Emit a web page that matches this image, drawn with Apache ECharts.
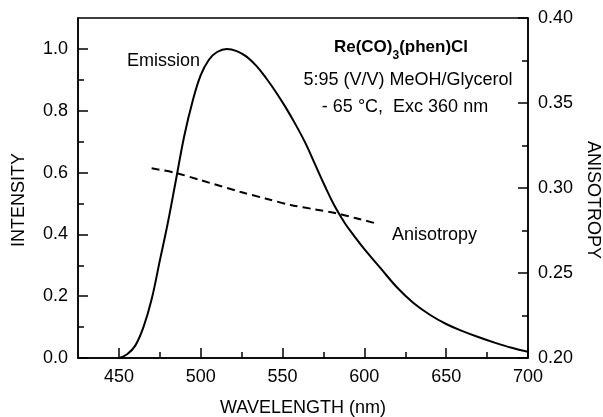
<!DOCTYPE html>
<html>
<head>
<meta charset="utf-8">
<script src="https://cdn.jsdelivr.net/npm/echarts@6/dist/echarts.min.js"></script>
<style>
html,body{margin:0;padding:0;background:#fff;}
#chart{width:603px;height:417px;}
</style>
</head>
<body>
<div id="chart"></div>
<script>
// ---- data ----
var emissionWavelength = [450,455,460,465,470,475,480,485,490,495,500,505,510,516,522,528,534,540,546,552,558,564,570,576,582,588,594,600,610,620,630,640,650,660,670,680,690,700];
var emissionIntensity  = [0,0.012,0.04,0.1,0.19,0.315,0.44,0.58,0.72,0.83,0.915,0.965,0.99,1.0,0.993,0.975,0.945,0.905,0.86,0.81,0.755,0.695,0.625,0.555,0.49,0.437,0.393,0.352,0.29,0.228,0.178,0.14,0.11,0.087,0.067,0.049,0.033,0.02];
var anisoWavelength = [470,485,500,524,540,555,570,583,595,607];
var anisotropy      = [0.3116,0.3088,0.3046,0.2978,0.2937,0.290,0.2874,0.2851,0.2822,0.2792];
var xMajorTicks = [450,500,550,600,650,700];
var xMinorTicks = [475,525,575,625,675];
var leftMajorTicks = [0,0.2,0.4,0.6,0.8,1.0];
var leftMinorTicks = [0.1,0.3,0.5,0.7,0.9];
var rightMajorTicks = [0.20,0.25,0.30,0.35,0.40];
var rightMinorTicks = [0.225,0.275,0.325,0.375];

var FONT = "'Liberation Sans', Arial, Helvetica, sans-serif";
var black = '#000';

function zip(a,b){ var r=[]; for(var i=0;i<a.length;i++) r.push([a[i],b[i]]); return r; }

var chart = echarts.init(document.getElementById('chart'), null, {renderer:'canvas'});
var axisLineStyle = {color:black, width:1.5};
var option = {
  animation:false,
  backgroundColor:'#fff',
  grid:{left:78, right:75, top:18, bottom:59, show:true, borderColor:black, borderWidth:1.5, backgroundColor:'transparent'},
  xAxis:[
    {type:'value', min:425, max:700, position:'bottom',
     axisLine:{show:true, onZero:false, lineStyle:axisLineStyle},
     axisTick:{show:true, inside:true, length:10, customValues:xMajorTicks, lineStyle:{color:black, width:1.5}},
     axisLabel:{show:true, customValues:xMajorTicks, fontSize:18, color:black, fontFamily:FONT, margin:10},
     splitLine:{show:false}},
    {type:'value', min:425, max:700, position:'bottom',
     axisLine:{show:false},
     axisTick:{show:true, inside:true, length:6, customValues:xMinorTicks, lineStyle:{color:black, width:1.5}},
     axisLabel:{show:false},
     splitLine:{show:false}}
  ],
  yAxis:[
    {type:'value', min:0, max:1.1, position:'left',
     axisLine:{show:true, onZero:false, lineStyle:axisLineStyle},
     axisTick:{show:true, inside:true, length:10, customValues:leftMajorTicks, lineStyle:{color:black, width:1.5}},
     axisLabel:{show:true, customValues:leftMajorTicks, fontSize:18, color:black, fontFamily:FONT, margin:10,
       formatter:function(v){return v.toFixed(1);}},
     splitLine:{show:false}},
    {type:'value', min:0.2, max:0.4, position:'right',
     axisLine:{show:true, onZero:false, lineStyle:axisLineStyle},
     axisTick:{show:true, inside:true, length:10, customValues:rightMajorTicks, lineStyle:{color:black, width:1.5}},
     axisLabel:{show:true, customValues:rightMajorTicks, fontSize:18, color:black, fontFamily:FONT, margin:10,
       formatter:function(v){return v.toFixed(2);}},
     splitLine:{show:false}},
    {type:'value', min:0, max:1.1, position:'left',
     axisLine:{show:false},
     axisTick:{show:true, inside:true, length:6, customValues:leftMinorTicks, lineStyle:{color:black, width:1.5}},
     axisLabel:{show:false}, splitLine:{show:false}},
    {type:'value', min:0.2, max:0.4, position:'right',
     axisLine:{show:false},
     axisTick:{show:true, inside:true, length:6, customValues:rightMinorTicks, lineStyle:{color:black, width:1.5}},
     axisLabel:{show:false}, splitLine:{show:false}}
  ],
  series:[
    {name:'Emission', type:'line', xAxisIndex:0, yAxisIndex:0, data:zip(emissionWavelength, emissionIntensity),
     showSymbol:false, smooth:0.4, lineStyle:{color:black, width:2}},
    {name:'Anisotropy', type:'line', xAxisIndex:0, yAxisIndex:1, data:zip(anisoWavelength, anisotropy),
     showSymbol:false, smooth:0.3, lineStyle:{color:black, width:2, type:[8,5]}}
  ],
  graphic:[
    {type:'text', x:127, y:61, style:{text:'Emission', font:'18px '+FONT, fill:black, textAlign:'left', textVerticalAlign:'middle'}},
    {type:'text', x:401, y:47, style:{text:'{b|Re(CO)}{s|3}{b|(phen)Cl}', textAlign:'center', textVerticalAlign:'middle', fill:black,
       rich:{b:{fontSize:17, fontWeight:'bold', fontFamily:FONT, fill:black, lineHeight:20},
             s:{fontSize:12, fontWeight:'bold', fontFamily:FONT, fill:black, lineHeight:12, padding:[18,0,0,0]}}}},
    {type:'text', x:408, y:80, style:{text:'5:95 (V/V) MeOH/Glycerol', font:'18px '+FONT, fill:black, textAlign:'center', textVerticalAlign:'middle'}},
    {type:'text', x:405, y:107, style:{text:'- 65 \u00B0C,  Exc 360 nm', font:'18px '+FONT, fill:black, textAlign:'center', textVerticalAlign:'middle'}},
    {type:'text', x:392, y:235, style:{text:'Anisotropy', font:'18px '+FONT, fill:black, textAlign:'left', textVerticalAlign:'middle'}},
    {type:'text', x:19, y:200, rotation:Math.PI/2, style:{text:'INTENSITY', font:'18px '+FONT, fill:black, textAlign:'center', textVerticalAlign:'middle'}},
    {type:'text', x:593, y:200, rotation:-Math.PI/2, style:{text:'ANISOTROPY', font:'18px '+FONT, fill:black, textAlign:'center', textVerticalAlign:'middle'}},
    {type:'text', x:303, y:408, style:{text:'WAVELENGTH (nm)', font:'18px '+FONT, fill:black, textAlign:'center', textVerticalAlign:'middle'}}
  ]
};
chart.setOption(option);
</script>
</body>
</html>
